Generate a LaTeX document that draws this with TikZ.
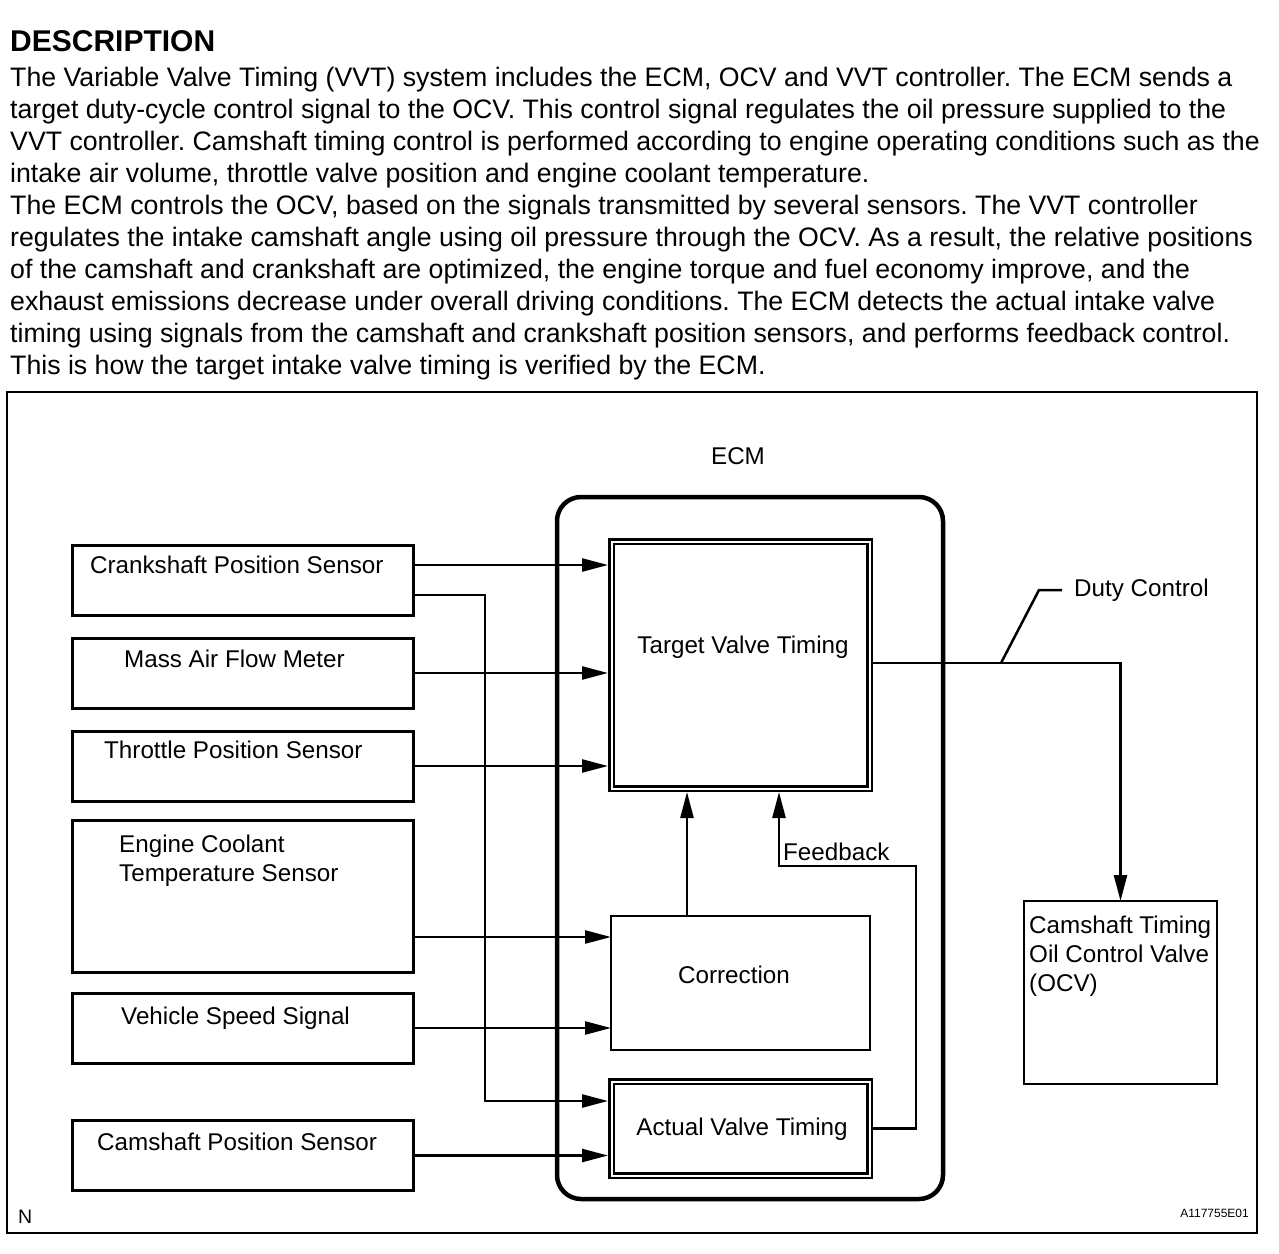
\documentclass[tikz,border=0pt]{standalone}
\usepackage{fontspec}
\setmainfont{Liberation Sans}
\usetikzlibrary{arrows.meta}
\newcommand{\dfont}{\fontsize{24.2}{29}\selectfont}
\frenchspacing
\begin{document}
\begin{tikzpicture}[x=1pt,y=-1pt,
  sensor/.style={draw, line width=3pt, minimum width=341pt, inner sep=0pt, outer sep=0pt},
  dbl/.style={draw, double, double distance=2pt, line width=2.5pt, inner sep=0pt, outer sep=3.5pt},
  box/.style={draw, line width=2.8pt, inner sep=0pt, outer sep=0pt},
  ecmbox/.style={draw, line width=4.5pt, rounded corners=24pt, inner sep=0pt, outer sep=0pt},
  conn/.style={line width=2.5pt},
  arr/.style={conn, -{Triangle[length=26pt,width=13pt]}},
  lbl/.style={font=\dfont, inner sep=0pt, align=left},
]
\useasboundingbox (0,0) rectangle (1279,1253);

% heading and description
\node[anchor=base west, inner sep=0pt, font=\fontsize{30}{36}\selectfont\bfseries] (head) at (10,51) {DESCRIPTION};
\node[anchor=base west, inner sep=0pt, align=left, font=\fontsize{26.7}{32}\selectfont] (desc) at (10,374) {%
The Variable Valve Timing (VVT) system includes the ECM, OCV and VVT controller. The ECM sends a\\
target duty-cycle control signal to the OCV. This control signal regulates the oil pressure supplied to the\\
VVT controller. Camshaft timing control is performed according to engine operating conditions such as the\\
intake air volume, throttle valve position and engine coolant temperature.\\
The ECM controls the OCV, based on the signals transmitted by several sensors. The VVT controller\\
regulates the intake camshaft angle using oil pressure through the OCV. As a result, the relative positions\\
of the camshaft and crankshaft are optimized, the engine torque and fuel economy improve, and the\\
exhaust emissions decrease under overall driving conditions. The ECM detects the actual intake valve\\
timing using signals from the camshaft and crankshaft position sensors, and performs feedback control.\\
This is how the target intake valve timing is verified by the ECM.};

% outer frame
\node[draw, line width=1.5pt, minimum width=1250pt, minimum height=841pt, inner sep=0pt] (frame) at (632,812.5) {};

% ECM
\node[ecmbox, minimum width=386pt, minimum height=702pt] (ecm) at (750,848) {};
\node[lbl, anchor=base] (ecmlbl) at (738,464) {ECM};

\node[dbl, minimum width=258pt, minimum height=247pt] (tvt) at (740.5,665) {};
\node[lbl, anchor=base] (tvtlbl) at (743,653) {Target Valve Timing};

\node[box, minimum width=259pt, minimum height=134pt] (corr) at (740.5,983) {};
\node[lbl, anchor=base] (corrlbl) at (734,983) {Correction};

\node[dbl, minimum width=258pt, minimum height=94pt] (avt) at (740.5,1128.5) {};
\node[lbl, anchor=base] (avtlbl) at (742,1135) {Actual Valve Timing};

% OCV
\node[box, minimum width=193pt, minimum height=183pt] (ocv) at (1120.5,992.5) {};
\node[lbl, anchor=base west] (ocvlbl) at (1029,991) {Camshaft Timing\\Oil Control Valve\\(OCV)};

% sensors
\node[sensor, minimum height=70pt] (crank) at (242.5,580) {};
\node[lbl, anchor=base west] (cranklbl) at (90,573) {Crankshaft Position Sensor};
\node[sensor, minimum height=70pt] (maf) at (242.5,673) {};
\node[lbl, anchor=base west] (maflbl) at (124,667) {Mass Air Flow Meter};
\node[sensor, minimum height=70pt] (tps) at (242.5,766) {};
\node[lbl, anchor=base west] (tpslbl) at (104,758) {Throttle Position Sensor};
\node[sensor, minimum height=152pt] (ect) at (242.5,896) {};
\node[lbl, anchor=base west] (ectlbl) at (119,881) {Engine Coolant\\Temperature Sensor};
\node[sensor, minimum height=70pt] (vss) at (242.5,1028) {};
\node[lbl, anchor=base west] (vsslbl) at (121,1024) {Vehicle Speed Signal};
\node[sensor, minimum height=70pt] (cps) at (242.5,1155.5) {};
\node[lbl, anchor=base west] (cpslbl) at (97,1150) {Camshaft Position Sensor};

% connectors
\draw[arr] (crank.east |- 0,565) -- (tvt.west |- 0,565);
\coordinate (crbend) at (485,1101);
\draw[arr] (crank.east |- 0,595) -| (crbend) -- (avt.west |- crbend);
\draw[arr] (maf.east) -- (tvt.west |- maf.east);
\draw[arr] (tps.east) -- (tvt.west |- tps.east);
\draw[arr] (ect.east |- 0,937) -- (corr.west |- 0,937);
\draw[arr] (vss.east) -- (corr.west |- vss.east);
\draw[arr] (cps.east) -- (avt.west |- cps.east);
\draw[arr] (corr.north -| 687,0) -- (tvt.south -| 687,0);
\coordinate (fb1) at (916,866);
\draw[arr] (avt.east) -| (fb1) -| (tvt.south -| 779,0);
\node[lbl, anchor=base west] (fblbl) at (783,860) {Feedback};

\draw[arr] (tvt.east |- 0,663) -| (ocv.north);
\node[lbl, anchor=base west] (duty) at (1074,596) {Duty Control};
\coordinate (dc1) at (1001,663);
\draw[conn] (dc1) -- (1039,590) -- ([xshift=-12pt]duty.west |- 0,590);

% corner marks
\node[anchor=base west, inner sep=0pt, font=\fontsize{19.5}{22}\selectfont] (nmark) at (18,1223) {N};
\node[anchor=base east, inner sep=0pt, font=\fontsize{12}{14}\selectfont] (code) at (1249,1217) {A117755E01};
\end{tikzpicture}
\end{document}
